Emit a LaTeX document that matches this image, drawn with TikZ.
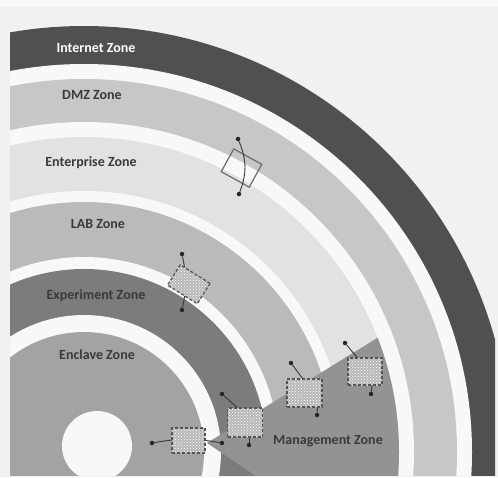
\documentclass[tikz,border=0pt]{standalone}
\usepackage{fontspec}
\setmainfont{Carlito}
\usetikzlibrary{patterns,calc}
\definecolor{bg}{HTML}{F1F1F1}
\definecolor{gapw}{HTML}{F8F8F8}
\definecolor{inet}{HTML}{505052}
\definecolor{dmz}{HTML}{C5C7C8}
\definecolor{ent}{HTML}{E1E2E3}
\definecolor{lab}{HTML}{B9BABB}
\definecolor{expz}{HTML}{7C7C7C}
\definecolor{encl}{HTML}{A3A3A3}
\definecolor{mgmt}{HTML}{939393}
\definecolor{boxfill}{HTML}{B8B8B8}
\definecolor{boxline}{HTML}{555555}
\definecolor{txt}{HTML}{3A3A3A}
\begin{document}
\begin{tikzpicture}[x=1pt,y=-1pt,
  zonelabel/.style={font=\bfseries\fontsize{14}{16}\selectfont, text=txt, inner sep=0pt},
  fwbox/.style={rectangle, inner sep=0pt, preaction={fill=boxfill}, pattern=crosshatch dots, pattern color=white, draw=boxline, line width=1.3pt, densely dashed},
  fwline/.style={rectangle, inner sep=0pt, draw=black!58, line width=1.2pt},
  pdot/.style={circle, fill=black!85, inner sep=0pt, minimum size=4.5pt},
  wire/.style={draw=black!78, line width=0.9pt}]
\useasboundingbox (0,0) rectangle (498,477);
\fill[bg] (0,0) rectangle (498,477);
\fill[white!60!bg] (0,0) rectangle (498,7);
\begin{scope}
  \clip (10,0) rectangle (495,475);
  \coordinate (C) at (84,452);
  \fill[inet] (C) circle[radius=426pt];
  \fill[gapw] (C) circle[radius=388pt];
  \fill[dmz]  (C) circle[radius=373pt];
  \fill[gapw] (C) circle[radius=330pt];
  \fill[ent]  (C) circle[radius=315pt];
  \fill[gapw] (C) circle[radius=261pt];
  \fill[lab]  (C) circle[radius=250pt];
  \fill[gapw] (C) circle[radius=195pt];
  \fill[expz] (C) circle[radius=183pt];
  \fill[gapw] (C) circle[radius=137pt];
  \begin{scope}
    \clip (C) circle[radius=315pt];
    \fill[mgmt] (207,443) -- (907,11) -- (907,733) -- (637,733) -- cycle;
  \end{scope}
  \fill[encl] (C) circle[radius=120pt];
  \fill[gapw] (97,446) circle[radius=35pt];
\end{scope}

% labels
\node[zonelabel, text=white] (inetlbl) at (96,48) {Internet Zone};
\node[zonelabel] (dmzlbl) at (92,95) {DMZ Zone};
\node[zonelabel] (entlbl) at (91,163) {Enterprise Zone};
\node[zonelabel] (lablbl) at (98,224) {LAB Zone};
\node[zonelabel] (explbl) at (96,296) {Experiment Zone};
\node[zonelabel] (encllbl) at (97,355) {Enclave Zone};
\node[zonelabel] (mgmtlbl) at (328,441) {Management Zone};

% connector end dots
\node[pdot] (d1a) at (238,139) {};
\node[pdot] (d1b) at (239,194) {};
\node[pdot] (d2a) at (182,254) {};
\node[pdot] (d2b) at (182,310) {};
\node[pdot] (d3a) at (152,443) {};
\node[pdot] (d3b) at (222,443) {};
\node[pdot] (d4a) at (222,394) {};
\node[pdot] (d4b) at (249,445) {};
\node[pdot] (d5a) at (291,363) {};
\node[pdot] (d5b) at (317,415) {};
\node[pdot] (d6a) at (345,343) {};
\node[pdot] (d6b) at (371,394) {};

% through connectors
\draw[wire] (d2a) to[bend left=12] (d2b);
\draw[wire] (d3a) to[bend left=10] (d3b);

% boxes
\node[fwline, rotate=-29, minimum width=32pt, minimum height=26pt] (fw1) at (241.5,168) {};
\node[fwbox, rotate=-32, minimum width=35pt, minimum height=24pt] (fw2) at (188.75,284.25) {};
\node[fwbox, minimum width=33pt, minimum height=25pt] (fw3) at (188.5,440.5) {};
\node[fwbox, minimum width=35pt, minimum height=29pt] (fw4) at (245,422.5) {};
\node[fwbox, minimum width=35pt, minimum height=28pt] (fw5) at (304.5,393) {};
\node[fwbox, minimum width=34pt, minimum height=27pt] (fw6) at (365,371.5) {};

\draw[wire] (d1a) to[bend left=22] (d1b);
\draw[wire] (d4a) -- ($(fw4.north)+(-8,0)$);
\draw[wire] ($(fw4.south)+(4,0)$) -- (d4b);
\draw[wire] (d5a) -- ($(fw5.north)+(-2,0)$);
\draw[wire] ($(fw5.south)+(13,0)$) -- (d5b);
\draw[wire] (d6a) -- ($(fw6.north)+(-8,0)$);
\draw[wire] ($(fw6.south)+(7,0)$) -- (d6b);
\end{tikzpicture}
\end{document}
